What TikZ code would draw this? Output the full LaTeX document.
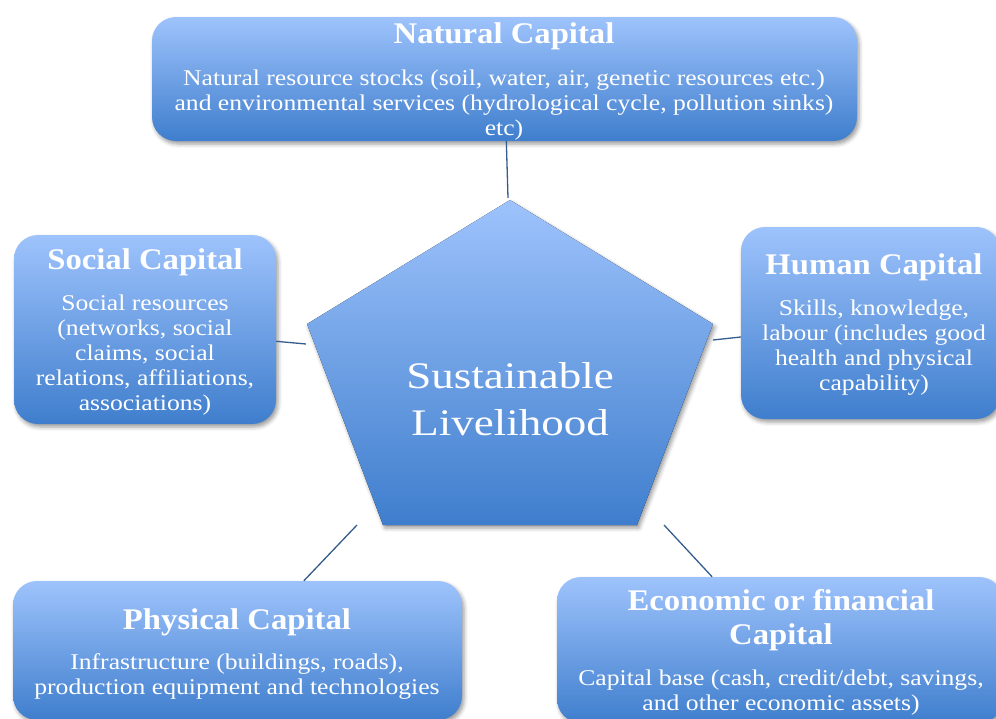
\documentclass[tikz,border=0pt]{standalone}
\usepackage{fontspec}
\setmainfont{Liberation Serif}
% widened faces for the box titles, box bodies and the hub label
\newfontfamily\titleface{Liberation Serif}[FakeStretch=1.09]
\newfontfamily\bodyface{Liberation Serif}[FakeStretch=1.14]
\newfontfamily\hubface{Liberation Serif}[FakeStretch=1.2]
\usetikzlibrary{shadows.blur}

\definecolor{boxtop}{RGB}{158,195,252}
\definecolor{boxbot}{RGB}{63,126,205}
\definecolor{linkcol}{RGB}{52,92,142}

\begin{document}
\begin{tikzpicture}[x=1pt,y=-1pt,
  capbox/.style={rectangle, rounded corners=24pt, top color=boxtop,
    bottom color=boxbot, draw=none, inner sep=0pt,
    blur shadow={shadow xshift=2pt, shadow yshift=-3pt,
      shadow blur radius=4pt, shadow opacity=40}},
  captitle/.style={text=white, inner sep=0pt, align=center,
    font=\titleface\fontsize{30}{34}\selectfont\bfseries},
  capbody/.style={text=white, inner sep=0pt, align=center, anchor=north,
    font=\bodyface\fontsize{22.5}{25}\selectfont},
  hubtext/.style={text=white, inner sep=0pt, align=center, anchor=north,
    font=\hubface\fontsize{37.5}{47}\selectfont},
  link/.style={draw=linkcol, line width=1.3pt}]

\useasboundingbox (0,0) rectangle (996,718);

% central pentagon
\coordinate (pTop) at (510,200);
\coordinate (pRight) at (713,324);
\coordinate (pBR) at (637,525);
\coordinate (pBL) at (383,525);
\coordinate (pLeft) at (307,324);
\fill[top color=boxtop, bottom color=boxbot,
  blur shadow={shadow xshift=2pt, shadow yshift=-3pt,
    shadow blur radius=4pt, shadow opacity=40}]
  (pTop) -- (pRight) -- (pBR) -- (pBL) -- (pLeft) -- cycle;
\node[hubtext] (hub) at (510,362.4) {Sustainable\\Livelihood};

% capital boxes
\node[capbox, minimum width=705pt, minimum height=124pt] (natural) at (504.5,79) {};
\node[capbox, minimum width=262pt, minimum height=189pt] (social) at (145,329.5) {};
\node[capbox, minimum width=259pt, minimum height=192pt] (human) at (870.5,323) {};
\node[capbox, minimum width=449pt, minimum height=139pt] (physical) at (237.5,650.5) {};
\node[capbox, minimum width=446pt, minimum height=146pt] (economic) at (780,650) {};

% box texts
\node[captitle, anchor=base] (natural-title) at (504,43) {Natural Capital};
\node[capbody] (natural-body) at (504,69.6)
  {Natural resource stocks (soil, water, air, genetic resources etc.)\\
   and environmental services (hydrological cycle, pollution sinks)\\
   etc)};

\node[captitle, anchor=base] (social-title) at (145,269) {Social Capital};
\node[capbody] (social-body) at (145,294.6)
  {Social resources\\(networks, social\\claims, social\\relations, affiliations,\\associations)};

\node[captitle, anchor=base] (human-title) at (874,274) {Human Capital};
\node[capbody] (human-body) at (874,299.6)
  {Skills, knowledge,\\labour (includes good\\health and physical\\capability)};

\node[captitle, anchor=base] (physical-title) at (237,629) {Physical Capital};
\node[capbody] (physical-body) at (237,653.6)
  {Infrastructure (buildings, roads),\\production equipment and technologies};

\node[captitle, anchor=north] (economic-title) at (781,589.3)
  {Economic or financial\\Capital};
\node[capbody] (economic-body) at (781,669.6)
  {Capital base (cash, credit/debt, savings,\\and other economic assets)};

% connectors towards the hub
\coordinate (cTop) at (508,198);
\coordinate (cLeft) at (306,344);
\coordinate (cRight) at (713,340);
\coordinate (cBL) at (357,525);
\coordinate (cBR) at (664,525);
\draw[link] (natural) -- (cTop);
\draw[link] (social) -- (cLeft);
\draw[link] (human) -- (cRight);
\draw[link] (physical) -- (cBL);
\draw[link] (economic) -- (cBR);
\end{tikzpicture}
\end{document}
